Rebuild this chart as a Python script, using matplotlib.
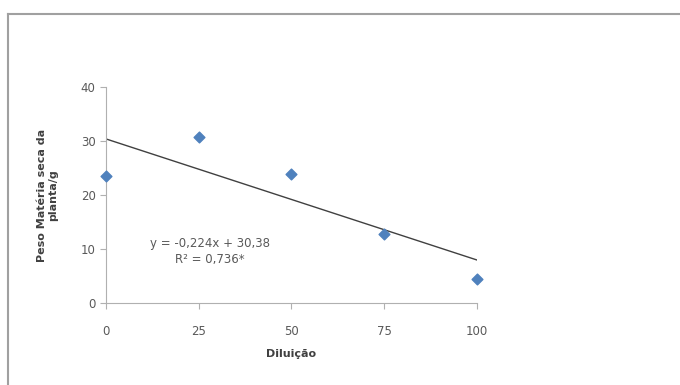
import matplotlib.pyplot as plt
import numpy as np

# dados
diluicao = [0, 25, 50, 75, 100]
peso = [23.6, 30.7, 23.9, 12.8, 4.5]
coef_a = -0.224
coef_b = 30.38
xticks = [0, 25, 50, 75, 100]
yticks = [0, 10, 20, 30, 40]

fig = plt.figure(figsize=(6.8, 3.85), dpi=100)
ax = fig.add_axes([0.156, 0.213, 0.545, 0.561])

# moldura externa
fig.add_artist(plt.Line2D([0.012, 0.012], [0.0, 0.963], color="#a0a0a0", lw=1.5, transform=fig.transFigure))
fig.add_artist(plt.Line2D([0.012, 1.0], [0.963, 0.963], color="#a0a0a0", lw=1.5, transform=fig.transFigure))

ax.scatter(diluicao, peso, marker="D", s=30, color="#4F81BD", zorder=3, clip_on=False)
xl = np.array([0, 100])
ax.plot(xl, coef_a * xl + coef_b, color="#404040", lw=1.0, zorder=2)

ax.set_xlim(0, 100)
ax.set_ylim(0, 40)
ax.set_xticks(xticks)
ax.set_yticks(yticks)
for s in ["top", "right"]:
    ax.spines[s].set_visible(False)
for s in ["left", "bottom"]:
    ax.spines[s].set_color("#b0b0b0")
ax.tick_params(colors="#b0b0b0", labelcolor="#595959", labelsize=8.5, length=4)
ax.tick_params(axis="x", pad=12)

ax.text(28, 9.6, "y = -0,224x + 30,38\nR² = 0,736*", ha="center", va="center",
        fontsize=8.5, color="#595959", linespacing=1.3)

ax.set_xlabel("Diluição", fontsize=8, fontweight="bold", color="#404040", labelpad=8)
ax.set_ylabel("Peso Matéria seca da\nplanta/g", fontsize=8, fontweight="bold", color="#404040", labelpad=16)

plt.savefig("out.png", dpi=100)
